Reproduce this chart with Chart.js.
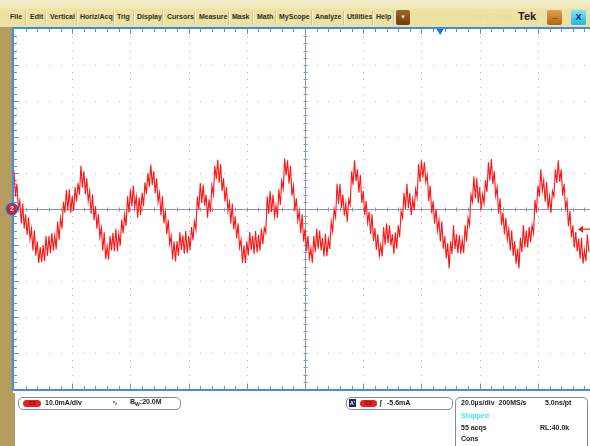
<!DOCTYPE html>
<html>
<head>
<meta charset="utf-8">
<script src="https://cdn.jsdelivr.net/npm/chart.js@4/dist/chart.umd.min.js"></script>
<style>
  html,body{margin:0;padding:0;}
  body{width:590px;height:446px;overflow:hidden;position:relative;background:#fff;font-family:"Liberation Sans",Arial,sans-serif;}
  #menubar{position:absolute;left:0;top:0;width:590px;height:27px;background:linear-gradient(#f4efcf 0px,#f1eab8 8px,#ede3a3 9px,#ece1a0 27px);}
  .mi{position:absolute;top:13px;font-size:7px;font-weight:bold;color:#2b2b2b;line-height:8px;white-space:nowrap;}
  .sep{position:absolute;top:11px;width:1px;height:14px;background:#cfc48a;border-right:1px solid #f8f3d6;}
  #strip{position:absolute;left:0;top:27px;width:13px;height:366px;background:#b39c5e;}
  #strip2{position:absolute;left:0;top:393px;width:15px;height:53px;background:#b39c5e;}
  canvas{position:absolute;left:0;top:0;z-index:1;}
  .box{position:absolute;border:1px solid #8a8a8a;border-radius:5px;background:#fff;z-index:2;}
  .t{position:absolute;font-size:7px;font-weight:bold;color:#1d1d1d;line-height:8px;white-space:nowrap;z-index:3;}
  .pill{position:absolute;height:7px;border-radius:4px;background:#e5221f;color:#7a0a0a;font-size:5px;line-height:7px;text-align:center;font-weight:bold;z-index:3;}
  .btn{position:absolute;top:10px;width:15px;height:15px;border-radius:2px;text-align:center;font-weight:bold;}
</style>
</head>
<body>
<div id="menubar">
  <span class="mi" style="left:10px">File</span><div class="sep" style="left:25px"></div>
  <span class="mi" style="left:30px">Edit</span><div class="sep" style="left:45px"></div>
  <span class="mi" style="left:50px">Vertical</span><div class="sep" style="left:76px"></div>
  <span class="mi" style="left:80px">Horiz/Acq</span><div class="sep" style="left:113px"></div>
  <span class="mi" style="left:117px">Trig</span><div class="sep" style="left:133px"></div>
  <span class="mi" style="left:137px">Display</span><div class="sep" style="left:162px"></div>
  <span class="mi" style="left:167px">Cursors</span><div class="sep" style="left:194px"></div>
  <span class="mi" style="left:199px">Measure</span><div class="sep" style="left:228px"></div>
  <span class="mi" style="left:232px">Mask</span><div class="sep" style="left:252px"></div>
  <span class="mi" style="left:257px">Math</span><div class="sep" style="left:275px"></div>
  <span class="mi" style="left:279px">MyScope</span><div class="sep" style="left:311px"></div>
  <span class="mi" style="left:315px">Analyze</span><div class="sep" style="left:343px"></div>
  <span class="mi" style="left:347px">Utilities</span><div class="sep" style="left:372px"></div>
  <span class="mi" style="left:376px">Help</span><div class="sep" style="left:393px"></div>
  <div class="btn" style="left:396px;width:14px;background:linear-gradient(#a0652a,#6e3c10);color:#ffe9a0;font-size:6px;line-height:15px;">&#9660;</div>
  <span style="position:absolute;left:473px;top:12px;font-size:9px;color:#e7dc9e;">DPO7254</span>
  <span style="position:absolute;left:518px;top:10px;font-size:11px;font-weight:bold;color:#1e1e1e;">Tek</span>
  <div class="btn" style="left:547px;background:linear-gradient(#e0a050,#b06818);color:#2a1a08;font-size:9px;line-height:11px;">_</div>
  <div class="btn" style="left:571px;background:linear-gradient(#7be4fb,#22b4e6);color:#0b2a4a;font-size:9px;line-height:15px;">X</div>
</div>
<div id="strip"></div>
<div id="strip2"></div>
<canvas id="c" width="590" height="446"></canvas>

<div class="box" style="left:18px;top:397px;width:161px;height:11px;"></div>
<div class="pill" style="left:23px;top:400px;width:18px;">C2</div>
<span class="t" style="left:45px;top:399px;">10.0mA/div</span>
<span class="t" style="left:112px;top:399px;font-weight:normal;">&#8767;</span>
<span class="t" style="left:130px;top:398px;">B<sub style="font-size:5px;vertical-align:-2px">W</sub>:20.0M</span>

<div class="box" style="left:346px;top:397px;width:105px;height:11px;"></div>
<div style="position:absolute;left:349px;top:399px;width:7px;height:8px;background:#1b2b4d;color:#fff;font-size:5px;line-height:8px;text-align:center;font-weight:bold;z-index:3;">A'</div>
<div class="pill" style="left:360px;top:400px;width:17px;">C2</div>
<span class="t" style="left:380px;top:399px;font-style:italic;">&#8747;</span>
<span class="t" style="left:387px;top:399px;">-5.6mA</span>

<div class="box" style="left:455px;top:397px;width:131px;height:60px;"></div>
<span class="t" style="left:461px;top:399px;">20.0&#181;s/div&nbsp; 200MS/s</span>
<span class="t" style="left:545px;top:399px;">5.0ns/pt</span>
<span class="t" style="left:461px;top:412px;color:#3fe3f2;">Stopped</span>
<span class="t" style="left:461px;top:424px;">55 acqs</span>
<span class="t" style="left:540px;top:424px;">RL:40.0k</span>
<span class="t" style="left:461px;top:435px;">Cons</span>

<script>
// ---- data ----
const SAMPLE_START_US = -100;   // time of first sample
const SAMPLE_STEP_US = 0.5;     // sample spacing
const currentMA = [
 10.5, 3.5, 7, 0, 2.3, -4, 1.5, -5.5, -1.5, -7.2,
 -2.3, -8.4, -5.5, -11.5, -5.9, -13, -9, -15, -10.6, -14.8,
 -10, -14.5, -7.5, -13, -7.5, -12.3, -6.7, -11.5, -7.4, -11.2,
 -3.5, -8.5, -2.5, -5.5, 2, -1, 5.3, -0.4, 5.5, -1,
 3.6, -0.5, 6, 2, 7.3, 4, 12, 6, 10.5, 4.2,
 8.5, 2.2, 5, -1.3, 4, -3.1, 0.8, -5.5, -1.5, -7.8,
 -5.2, -11.6, -6.5, -13.9, -10.3, -14.1, -7.5, -11.5, -6.6, -11.8,
 -5.5, -11.7, -6.9, -10.2, -3, -6.7, -1.5, -4.7, 3.5, -1,
 5.5, 0.7, 6.5, 0.5, 3.5, -2.4, 3.2, -1.7, 4.5, 0.7,
 7.4, 4.2, 10, 6.2, 12.3, 6.7, 10.5, 4.3, 8.5, 2,
 4.5, -1.8, 3.5, -4, -0.5, -7, -3, -9.7, -7.5, -14,
 -9, -14.5, -9, -13, -6.5, -11.4, -7.3, -12.4, -6.1, -12.3,
 -7.5, -11.5, -5, -8.7, -3.5, -5.7, 3.5, -0.2, 7.2, 1.7,
 6.8, 0.9, 4, -2.4, 2.7, -0.9, 6.5, 4, 12, 8.3,
 13.7, 7.3, 12.5, 5, 8.5, 2, 6, -0.5, 2, -4,
 1.5, -5.7, -2, -8.2, -4, -10.7, -8.5, -15, -10.1, -15,
 -9, -12.9, -6.4, -11.4, -7.5, -12.5, -6.1, -12.1, -7.2, -11.6,
 -5.5, -9.8, -5.2, -6.6, 3.5, -1.3, 5, -0.8, 4, -2,
 1, -2.5, 5.5, 1.1, 7.8, 5.6, 14, 9.3, 13.5, 7,
 12, 3.7, 6.5, -0.5, 3, -3.2, -0.5, -6.7, -1.5, -9,
 -5.5, -11.7, -7.5, -13.7, -11, -15, -7.5, -12, -5.5, -11,
 -6, -11.5, -8, -13.2, -6.9, -13.1, -8.3, -11.1, -3.5, -6.2,
 0, -2.3, 7, 1.5, 7, 0.2, 4, -1.8, 1.5, -3.6,
 2.7, 1.1, 10.5, 6.7, 13.5, 7.7, 11, 4.5, 9.5, 1.7,
 5, -1.7, 2.2, -3.8, -0.8, -6.9, -1.5, -8.9, -5.3, -11.4,
 -7, -13, -10, -13.2, -5, -10, -4, -9.5, -4.5, -10.2,
 -7, -12.5, -6.5, -11, -4.5, -7.8, -0.6, -2.5, 4.5, 0,
 7, 0.2, 4.5, -1.7, 2.7, -0.4, 5.5, 3.2, 12.5, 7.5,
 13.5, 8.7, 13, 7.5, 9.5, 2.2, 6.5, -1.2, 2.2, -4.1,
 0, -6, -3, -9, -3.5, -11, -7.5, -13.7, -9.5, -16.5,
 -9, -12.5, -4.5, -11.2, -7, -12.3, -7.2, -12.4, -8.6, -12.3,
 -4.5, -9, -2.5, -4.5, 4, 2, 9, 3, 8.5, 1.7,
 6, -0.2, 4.1, 1.5, 8, 4.7, 13, 7.9, 13.9, 6.9,
 10.5, 3.7, 6, -1.3, 3, -4.5, -1, -7, -2.5, -8.5,
 -5.5, -11.5, -6, -13, -9, -15.2, -11, -16.5, -8, -12,
 -4.5, -10.7, -6, -10.7, -5, -9.2, -4.5, -6.7, 2.5, -1,
 6.5, 3.5, 11, 5, 8, 2, 7.5, 0, 3.5, -1,
 5, 3.5, 11, 7.2, 13.5, 7.5, 11, 3.7, 7, 0.1,
 2.3, -4.8, -0.5, -8, -4.5, -10.7, -6.4, -11.8, -8.2, -13.8,
 -8, -15.2, -11.5, -14.5, -7, -12
];
const X_MIN_US = -100, X_MAX_US = 97.9, US_PER_DIV = 20;
const Y_MIN_MA = -50, Y_MAX_MA = 50, MA_PER_DIV = 10;
const TRIGGER_LEVEL_MA = -5.6;
const TRIGGER_POS_US = 46.4;

const points = currentMA.map((v, i) => ({x: SAMPLE_START_US + i * SAMPLE_STEP_US, y: v}));

const scope = {
  id: 'scope',
  beforeDatasetsDraw(chart) {
    const {ctx, chartArea: a} = chart;
    const xs = chart.scales.x, ys = chart.scales.y;
    const X = v => Math.round(xs.getPixelForValue(v));
    const Y = v => Math.round(ys.getPixelForValue(v));
    ctx.save();
    ctx.fillStyle = '#ffffff';
    ctx.fillRect(a.left, a.top, a.right - a.left, a.bottom - a.top);
    // dotted graticule
    ctx.fillStyle = '#b2b2b2';
    for (let k = 1; k < 10; k++) {
      if (k === 5) continue;
      const px = X(X_MIN_US + k * US_PER_DIV);
      if (px < a.right) for (let m = 1; m < 50; m++) ctx.fillRect(px, Y(Y_MIN_MA + m * MA_PER_DIV / 5), 1, 1);
      const py = Y(Y_MIN_MA + k * MA_PER_DIV);
      for (let m = 1; m < 50; m++) { const qx = X(X_MIN_US + m * US_PER_DIV / 5); if (qx < a.right) ctx.fillRect(qx, py, 1, 1); }
    }
    // center lines
    ctx.strokeStyle = '#8a98b0';
    ctx.lineWidth = 1;
    const cx = X(X_MIN_US + 5 * US_PER_DIV) + 0.5, cy = Y(0) + 0.5;
    ctx.beginPath();
    ctx.moveTo(a.left, cy); ctx.lineTo(a.right, cy);
    ctx.moveTo(cx, a.top); ctx.lineTo(cx, a.bottom);
    for (let m = 1; m < 50; m++) {
      const qx = X(X_MIN_US + m * US_PER_DIV / 5) + 0.5;
      if (qx < a.right) { ctx.moveTo(qx, cy - 2); ctx.lineTo(qx, cy + 2); }
      const qy = Y(Y_MIN_MA + m * MA_PER_DIV / 5) + 0.5;
      ctx.moveTo(cx - 2, qy); ctx.lineTo(cx + 2, qy);
    }
    ctx.stroke();
    // edge ticks
    ctx.strokeStyle = '#8c8c8c';
    ctx.beginPath();
    for (let m = 1; m < 50; m++) {
      const qx = X(X_MIN_US + m * US_PER_DIV / 5) + 0.5;
      const len = m % 5 === 0 ? 5 : 3;
      if (qx < a.right) {
        ctx.moveTo(qx, a.top); ctx.lineTo(qx, a.top + len);
        ctx.moveTo(qx, a.bottom); ctx.lineTo(qx, a.bottom - len);
      }
      const qy = Y(Y_MIN_MA + m * MA_PER_DIV / 5) + 0.5;
      ctx.moveTo(a.left, qy); ctx.lineTo(a.left + len, qy);
    }
    ctx.stroke();
    ctx.restore();
  },
  afterDraw(chart) {
    const {ctx, chartArea: a} = chart;
    const xs = chart.scales.x, ys = chart.scales.y;
    ctx.save();
    // blue frame
    ctx.strokeStyle = '#3d8ee8';
    ctx.lineWidth = 2;
    ctx.beginPath();
    ctx.moveTo(a.right + 2, a.top - 1); ctx.lineTo(a.left - 1, a.top - 1);
    ctx.lineTo(a.left - 1, a.bottom + 1); ctx.lineTo(a.right + 2, a.bottom + 1);
    ctx.stroke();
    // trigger position marker
    const tx = xs.getPixelForValue(TRIGGER_POS_US);
    ctx.fillStyle = '#1f6fe0';
    ctx.beginPath();
    ctx.moveTo(tx - 3.5, a.top); ctx.lineTo(tx + 3.5, a.top); ctx.lineTo(tx, a.top + 6);
    ctx.closePath(); ctx.fill();
    // trigger level arrow
    const ty = ys.getPixelForValue(TRIGGER_LEVEL_MA);
    ctx.fillStyle = '#e62020'; ctx.strokeStyle = '#e62020'; ctx.lineWidth = 1.2;
    ctx.beginPath(); ctx.moveTo(a.right - 12, ty); ctx.lineTo(a.right - 7, ty - 3.5); ctx.lineTo(a.right - 7, ty + 3.5); ctx.closePath(); ctx.fill();
    ctx.beginPath(); ctx.moveTo(a.right - 8, ty); ctx.lineTo(a.right, ty); ctx.stroke();
    // channel ground marker
    const gy = ys.getPixelForValue(0);
    ctx.beginPath(); ctx.arc(12, gy, 5.5, 0, Math.PI * 2);
    ctx.fillStyle = '#e21c1c'; ctx.fill();
    ctx.lineWidth = 1.6; ctx.strokeStyle = '#2a62d8'; ctx.stroke();
    ctx.fillStyle = '#ffffff'; ctx.font = 'bold 7px "Liberation Sans", Arial';
    ctx.textAlign = 'center'; ctx.textBaseline = 'middle';
    ctx.fillText('2', 12, gy + 0.5);
    ctx.restore();
  }
};

new Chart(document.getElementById('c'), {
  type: 'line',
  data: {datasets: [{data: points, borderColor: '#ff1414', borderWidth: 1.1, pointRadius: 0, tension: 0}]},
  options: {
    responsive: false,
    animation: false,
    layout: {padding: {left: 14, top: 29, right: 0, bottom: 57}},
    scales: {
      x: {type: 'linear', min: X_MIN_US, max: X_MAX_US, display: false},
      y: {min: Y_MIN_MA, max: Y_MAX_MA, display: false}
    },
    plugins: {legend: {display: false}, tooltip: {enabled: false}}
  },
  plugins: [scope]
});
</script>
</body>
</html>
